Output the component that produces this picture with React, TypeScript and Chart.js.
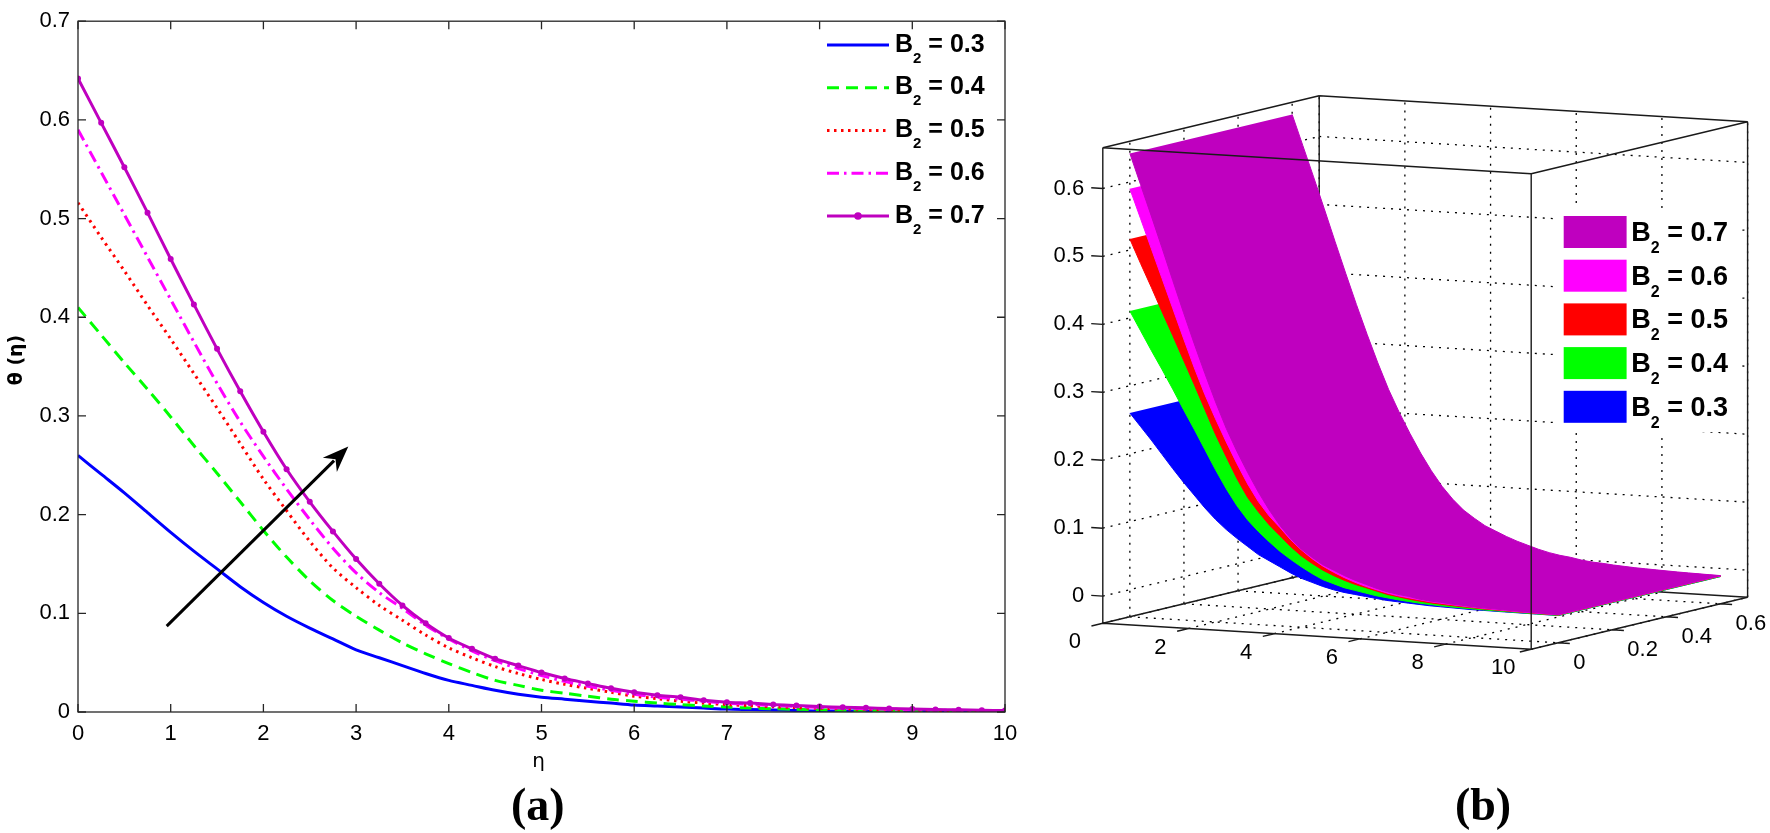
import { useEffect, useRef } from "react"
import { Chart, registerables } from "chart.js"

Chart.register(...registerables)

// ---- data ----
const eta = [
  0, 0.25, 0.5, 0.75, 1, 1.25, 1.5, 1.75, 2, 2.25, 2.5, 2.75, 3, 3.25, 3.5, 3.75, 4, 4.25, 4.5, 4.75, 5,
  5.25, 5.5, 5.75, 6, 6.25, 6.5, 6.75, 7, 7.25, 7.5, 7.75, 8, 8.25, 8.5, 8.75, 9, 9.25, 9.5, 9.75, 10,
]
const theta03 = [
  0.26, 0.241, 0.222, 0.202, 0.182, 0.163, 0.145, 0.127, 0.111, 0.097, 0.085, 0.074, 0.063, 0.055, 0.047,
  0.039, 0.032, 0.027, 0.022, 0.018, 0.015, 0.013, 0.011, 0.009, 0.007, 0.006, 0.005, 0.004, 0.003, 0.0025,
  0.002, 0.0015, 0.001, 0.001, 0.0008, 0.0006, 0.0005, 0.0004, 0.0003, 0.0002, 0.0001,
]
const theta04 = [
  0.41, 0.382, 0.354, 0.327, 0.299, 0.27, 0.242, 0.213, 0.184, 0.157, 0.133, 0.113, 0.097, 0.083, 0.07,
  0.059, 0.049, 0.04, 0.032, 0.027, 0.022, 0.019, 0.016, 0.013, 0.011, 0.009, 0.0075, 0.006, 0.005, 0.004,
  0.0033, 0.0027, 0.0022, 0.0018, 0.0015, 0.0012, 0.001, 0.0008, 0.0006, 0.0004, 0.0002,
]
const theta05 = [
  0.516, 0.481, 0.447, 0.412, 0.378, 0.343, 0.308, 0.272, 0.236, 0.204, 0.173, 0.146, 0.126, 0.108, 0.093,
  0.078, 0.065, 0.055, 0.046, 0.039, 0.033, 0.028, 0.024, 0.02, 0.016, 0.0135, 0.011, 0.009, 0.0075, 0.0063,
  0.0053, 0.0045, 0.0038, 0.0032, 0.0027, 0.0023, 0.0019, 0.0016, 0.0013, 0.0011, 0.0009,
]
const theta06 = [
  0.59, 0.547, 0.504, 0.461, 0.418, 0.375, 0.333, 0.294, 0.259, 0.226, 0.195, 0.166, 0.141, 0.121, 0.105,
  0.088, 0.074, 0.062, 0.052, 0.044, 0.037, 0.031, 0.026, 0.022, 0.018, 0.015, 0.013, 0.011, 0.009, 0.0078,
  0.0066, 0.0056, 0.0047, 0.004, 0.0034, 0.0029, 0.0024, 0.002, 0.0017, 0.0014, 0.0012,
]
const theta07 = [
  0.642, 0.597, 0.552, 0.506, 0.459, 0.413, 0.368, 0.325, 0.284, 0.246, 0.213, 0.183, 0.155, 0.13, 0.108,
  0.09, 0.075, 0.064, 0.054, 0.047, 0.04, 0.034, 0.029, 0.024, 0.02, 0.017, 0.015, 0.012, 0.01, 0.009,
  0.0075, 0.0065, 0.0055, 0.0048, 0.0042, 0.0036, 0.003, 0.0026, 0.0022, 0.0018, 0.0015,
]
const b2Values = ["0.3", "0.4", "0.5", "0.6", "0.7"]
const etaTicks = [0, 1, 2, 3, 4, 5, 6, 7, 8, 9, 10]
const thetaTicks = [0, 0.1, 0.2, 0.3, 0.4, 0.5, 0.6, 0.7]
const arrowTail = [0.957, 0.087]
const arrowHead = [2.916, 0.269]

// 3-D panel
const surfaceDepth = [0, 0.6]
const etaTicks3d = [0, 2, 4, 6, 8, 10]
const depthTicks3d = [0, 0.2, 0.4, 0.6]
const thetaTicks3d = [0, 0.1, 0.2, 0.3, 0.4, 0.5, 0.6]
const etaRange3d = [0, 10]
const depthRange3d = [-0.1, 0.7]
const thetaRange3d = [-0.04, 0.66]

const SANS = '"Liberation Sans", Arial, Helvetica, sans-serif'
const SERIF = '"Liberation Serif", "Times New Roman", serif'

const series = [
  { value: b2Values[0], data: theta03, color: "#0000ff", dash: [] as number[], marker: false },
  { value: b2Values[1], data: theta04, color: "#00ff00", dash: [12, 7], marker: false },
  { value: b2Values[2], data: theta05, color: "#ff0000", dash: [2.5, 4.5], marker: false },
  { value: b2Values[3], data: theta06, color: "#ff00ff", dash: [12, 5, 2.5, 5], marker: false },
  { value: b2Values[4], data: theta07, color: "#bf00bf", dash: [] as number[], marker: true },
]

function drawB2(ctx: CanvasRenderingContext2D, x: number, baseline: number, value: string, size: number) {
  ctx.fillStyle = "#000"
  ctx.textAlign = "left"
  ctx.textBaseline = "alphabetic"
  ctx.font = `bold ${size}px ${SANS}`
  ctx.fillText("B", x, baseline)
  const bw = ctx.measureText("B").width
  ctx.font = `bold ${Math.round(size * 0.6)}px ${SANS}`
  ctx.fillText("2", x + bw, baseline + size * 0.44)
  const sw = ctx.measureText("2").width
  ctx.font = `bold ${size}px ${SANS}`
  ctx.fillText(` = ${value}`, x + bw + sw, baseline)
}

function LinePanel() {
  const canvasRef = useRef<HTMLCanvasElement>(null)

  useEffect(() => {
    if (!canvasRef.current) return

    const framePlugin = {
      id: "matlabFrame",
      afterDraw(chart: Chart) {
        const { ctx, chartArea: a } = chart
        const xs = chart.scales.x
        const ys = chart.scales.y
        ctx.save()
        ctx.setLineDash([])
        ctx.strokeStyle = "#262626"
        ctx.lineWidth = 1.3
        ctx.strokeRect(a.left, a.top, a.right - a.left, a.bottom - a.top)
        ctx.beginPath()
        for (const v of etaTicks) {
          const px = xs.getPixelForValue(v)
          ctx.moveTo(px, a.bottom)
          ctx.lineTo(px, a.bottom - 8)
          ctx.moveTo(px, a.top)
          ctx.lineTo(px, a.top + 8)
        }
        for (const v of thetaTicks) {
          const py = ys.getPixelForValue(v)
          ctx.moveTo(a.left, py)
          ctx.lineTo(a.left + 8, py)
          ctx.moveTo(a.right, py)
          ctx.lineTo(a.right - 8, py)
        }
        ctx.stroke()

        // arrow
        const x0 = xs.getPixelForValue(arrowTail[0])
        const y0 = ys.getPixelForValue(arrowTail[1])
        const x1 = xs.getPixelForValue(arrowHead[0])
        const y1 = ys.getPixelForValue(arrowHead[1])
        const ang = Math.atan2(y1 - y0, x1 - x0)
        const hl = 26
        const hw = 10
        const bx = x1 - hl * Math.cos(ang)
        const by = y1 - hl * Math.sin(ang)
        ctx.strokeStyle = "#000"
        ctx.fillStyle = "#000"
        ctx.lineWidth = 3
        ctx.beginPath()
        ctx.moveTo(x0, y0)
        ctx.lineTo(bx + 6 * Math.cos(ang), by + 6 * Math.sin(ang))
        ctx.stroke()
        ctx.beginPath()
        ctx.moveTo(x1, y1)
        ctx.lineTo(bx + hw * Math.sin(ang), by - hw * Math.cos(ang))
        ctx.lineTo(bx + 8 * Math.cos(ang), by + 8 * Math.sin(ang))
        ctx.lineTo(bx - hw * Math.sin(ang), by + hw * Math.cos(ang))
        ctx.closePath()
        ctx.fill()

        // legend
        series.forEach((s, i) => {
          const ly = 45 + 42.75 * i
          ctx.strokeStyle = s.color
          ctx.lineWidth = 3.2
          ctx.lineCap = "butt"
          ctx.setLineDash(s.dash)
          ctx.beginPath()
          ctx.moveTo(827, ly)
          ctx.lineTo(889, ly)
          ctx.stroke()
          ctx.setLineDash([])
          if (s.marker) {
            ctx.fillStyle = s.color
            ctx.beginPath()
            ctx.arc(858, ly, 3.8, 0, Math.PI * 2)
            ctx.fill()
          }
          drawB2(ctx, 895, ly + 6.7, s.value, 25)
        })

        // axis titles
        ctx.fillStyle = "#000"
        ctx.textAlign = "center"
        ctx.textBaseline = "middle"
        ctx.font = `20px "DejaVu Sans", ${SANS}`
        ctx.fillText("η", 538.5, 762)
        ctx.save()
        ctx.translate(17, 360)
        ctx.rotate(-Math.PI / 2)
        ctx.font = `bold 19px "DejaVu Sans", ${SANS}`
        ctx.fillText("θ (η)", 0, 0)
        ctx.restore()
        ctx.font = `bold 46px ${SERIF}`
        ctx.fillText("(a)", 537.7, 808)
        ctx.restore()
      },
    }

    const chart = new Chart(canvasRef.current, {
      type: "line",
      data: {
        datasets: series.map((s, i) => ({
          label: `B2 = ${s.value}`,
          data: eta.map((x, k) => ({ x, y: s.data[k] })),
          borderColor: s.color,
          backgroundColor: s.color,
          borderWidth: 3,
          borderDash: s.dash,
          pointRadius: s.marker ? 3 : 0,
          pointBorderWidth: 0,
          pointBackgroundColor: s.color,
          tension: 0.3,
          fill: false,
          order: series.length - 1 - i,
        })),
      },
      options: {
        responsive: false,
        animation: false,
        layout: { autoPadding: false, padding: { top: 12, right: 35, left: 0, bottom: 0 } },
        plugins: { legend: { display: false }, tooltip: { enabled: false } },
        scales: {
          x: {
            type: "linear",
            min: 0,
            max: 10,
            ticks: { stepSize: 1, padding: 9, color: "#000", font: { family: SANS, size: 22 } },
            grid: { display: false, drawTicks: false },
            border: { display: false },
            afterFit: (s: any) => {
              s.height = 121
            },
          },
          y: {
            type: "linear",
            min: 0,
            max: 0.7,
            ticks: { stepSize: 0.1, padding: 8, color: "#000", font: { family: SANS, size: 22 } },
            grid: { display: false, drawTicks: false },
            border: { display: false },
            afterFit: (s: any) => {
              s.width = 78
            },
          },
        },
      },
      plugins: [framePlugin],
    })

    return () => {
      chart.destroy()
    }
  }, [])

  return (
    <canvas
      ref={canvasRef}
      width={1040}
      height={833}
      style={{ position: "absolute", left: 0, top: 0, width: 1040, height: 833 }}
    />
  )
}

// oblique projection of the 3-D box onto the panel (box edge lengths in px)
const EDGE_ETA = [428.4, -26]
const EDGE_DEPTH = [216.4, 52]
const EDGE_THETA = 475.6

function project(e: number, d: number, t: number) {
  const fe = (e - etaRange3d[0]) / (etaRange3d[1] - etaRange3d[0])
  const fd = (d - depthRange3d[0]) / (depthRange3d[1] - depthRange3d[0])
  const ft = (t - thetaRange3d[0]) / (thetaRange3d[1] - thetaRange3d[0])
  return { x: fe * EDGE_ETA[0] + fd * EDGE_DEPTH[0], y: fe * EDGE_ETA[1] + fd * EDGE_DEPTH[1] + ft * EDGE_THETA }
}

function SurfacePanel() {
  const canvasRef = useRef<HTMLCanvasElement>(null)

  useEffect(() => {
    if (!canvasRef.current) return

    const toPx = (chart: Chart) => (e: number, d: number, t: number) => {
      const p = project(e, d, t)
      return [chart.scales.x.getPixelForValue(p.x), chart.scales.y.getPixelForValue(p.y)]
    }
    const seg = (ctx: CanvasRenderingContext2D, a: number[], b: number[]) => {
      ctx.moveTo(a[0], a[1])
      ctx.lineTo(b[0], b[1])
    }
    const [eMin, eMax] = etaRange3d
    const [dMin, dMax] = depthRange3d
    const [tMin, tMax] = thetaRange3d

    const boxPlugin = {
      id: "box3d",
      beforeDatasetsDraw(chart: Chart) {
        const { ctx } = chart
        const P = toPx(chart)
        ctx.save()
        // dotted grid on floor and two back walls
        ctx.strokeStyle = "#000"
        ctx.lineWidth = 1.3
        ctx.setLineDash([2, 6])
        ctx.beginPath()
        for (const e of etaTicks3d) {
          seg(ctx, P(e, dMin, tMin), P(e, dMax, tMin))
          seg(ctx, P(e, dMax, tMin), P(e, dMax, tMax))
        }
        for (const d of depthTicks3d) {
          seg(ctx, P(eMin, d, tMin), P(eMax, d, tMin))
          seg(ctx, P(eMin, d, tMin), P(eMin, d, tMax))
        }
        for (const t of thetaTicks3d) {
          seg(ctx, P(eMin, dMin, t), P(eMin, dMax, t))
          seg(ctx, P(eMin, dMax, t), P(eMax, dMax, t))
        }
        ctx.stroke()
        // back edges of the box
        ctx.setLineDash([])
        ctx.strokeStyle = "#1a1a1a"
        ctx.lineWidth = 1.4
        ctx.beginPath()
        seg(ctx, P(eMin, dMin, tMin), P(eMin, dMax, tMin))
        seg(ctx, P(eMin, dMax, tMin), P(eMax, dMax, tMin))
        seg(ctx, P(eMin, dMax, tMin), P(eMin, dMax, tMax))
        seg(ctx, P(eMin, dMin, tMin), P(eMin, dMin, tMax))
        seg(ctx, P(eMax, dMax, tMin), P(eMax, dMax, tMax))
        seg(ctx, P(eMin, dMin, tMax), P(eMin, dMax, tMax))
        seg(ctx, P(eMin, dMax, tMax), P(eMax, dMax, tMax))
        ctx.stroke()
        ctx.restore()
      },
      afterDatasetsDraw(chart: Chart) {
        const { ctx } = chart
        const P = toPx(chart)
        ctx.save()
        ctx.setLineDash([])
        ctx.strokeStyle = "#1a1a1a"
        ctx.lineWidth = 1.4
        ctx.beginPath()
        seg(ctx, P(eMin, dMin, tMin), P(eMax, dMin, tMin))
        seg(ctx, P(eMax, dMin, tMin), P(eMax, dMax, tMin))
        seg(ctx, P(eMax, dMin, tMin), P(eMax, dMin, tMax))
        seg(ctx, P(eMin, dMin, tMax), P(eMax, dMin, tMax))
        seg(ctx, P(eMax, dMin, tMax), P(eMax, dMax, tMax))
        // ticks
        for (const t of thetaTicks3d) seg(ctx, P(eMin, dMin, t), P(eMin - 0.27, dMin, t))
        for (const e of etaTicks3d) seg(ctx, P(e, dMin, tMin), P(e, dMin - 0.042, tMin))
        for (const d of depthTicks3d) seg(ctx, P(eMax, d, tMin), P(eMax + 0.27, d, tMin))
        ctx.stroke()

        // tick labels
        ctx.fillStyle = "#000"
        ctx.font = `22px ${SANS}`
        ctx.textBaseline = "middle"
        ctx.textAlign = "right"
        for (const t of thetaTicks3d) {
          const p = P(eMin, dMin, t)
          ctx.fillText(String(t), p[0] - 18.6, p[1])
        }
        ctx.textAlign = "center"
        for (const e of etaTicks3d) {
          const p = P(e, dMin, tMin)
          ctx.fillText(String(e), p[0] - 28, p[1] + 19)
        }
        ctx.textAlign = "left"
        for (const d of depthTicks3d) {
          const p = P(eMax, d, tMin)
          ctx.fillText(String(d), p[0] + 15, p[1] + 20)
        }

        // legend (top entry = largest B2)
        ctx.fillStyle = "#fff"
        ctx.fillRect(513, 208, 189, 224)
        const rows = [...series].reverse()
        rows.forEach((s, i) => {
          const cy = 232 + 43.7 * i
          ctx.fillStyle = s.color
          ctx.fillRect(523.7, cy - 16, 62.9, 32)
          drawB2(ctx, 591.3, cy + 9, s.value, 27)
        })

        ctx.fillStyle = "#000"
        ctx.textAlign = "center"
        ctx.textBaseline = "middle"
        ctx.font = `bold 46px ${SERIF}`
        ctx.fillText("(b)", 443, 808)
        ctx.restore()
      },
    }

    const chart = new Chart(canvasRef.current, {
      type: "line",
      data: {
        datasets: series.map((s, i) => {
          const front = eta.map((e, k) => project(e, surfaceDepth[0], s.data[k]))
          const back = eta.map((e, k) => project(e, surfaceDepth[1], s.data[k])).reverse()
          return {
            label: `B2 = ${s.value}`,
            data: [...front, ...back],
            borderColor: s.color,
            backgroundColor: s.color,
            borderWidth: 1,
            pointRadius: 0,
            tension: 0,
            fill: "shape",
            order: series.length - 1 - i,
          }
        }),
      },
      options: {
        responsive: false,
        animation: false,
        layout: { autoPadding: false, padding: 0 },
        plugins: { legend: { display: false }, tooltip: { enabled: false } },
        scales: {
          x: { type: "linear", display: false, min: -62.8, max: 667.2 },
          y: { type: "linear", display: false, min: -209.7, max: 623.3 },
        },
      },
      plugins: [boxPlugin],
    })

    return () => {
      chart.destroy()
    }
  }, [])

  return (
    <canvas
      ref={canvasRef}
      width={730}
      height={833}
      style={{ position: "absolute", left: 1040, top: 0, width: 730, height: 833 }}
    />
  )
}

export default function App() {
  return (
    <div style={{ position: "absolute", left: 0, top: 0, width: 1770, height: 833, background: "#fff" }}>
      <LinePanel />
      <SurfacePanel />
    </div>
  )
}
